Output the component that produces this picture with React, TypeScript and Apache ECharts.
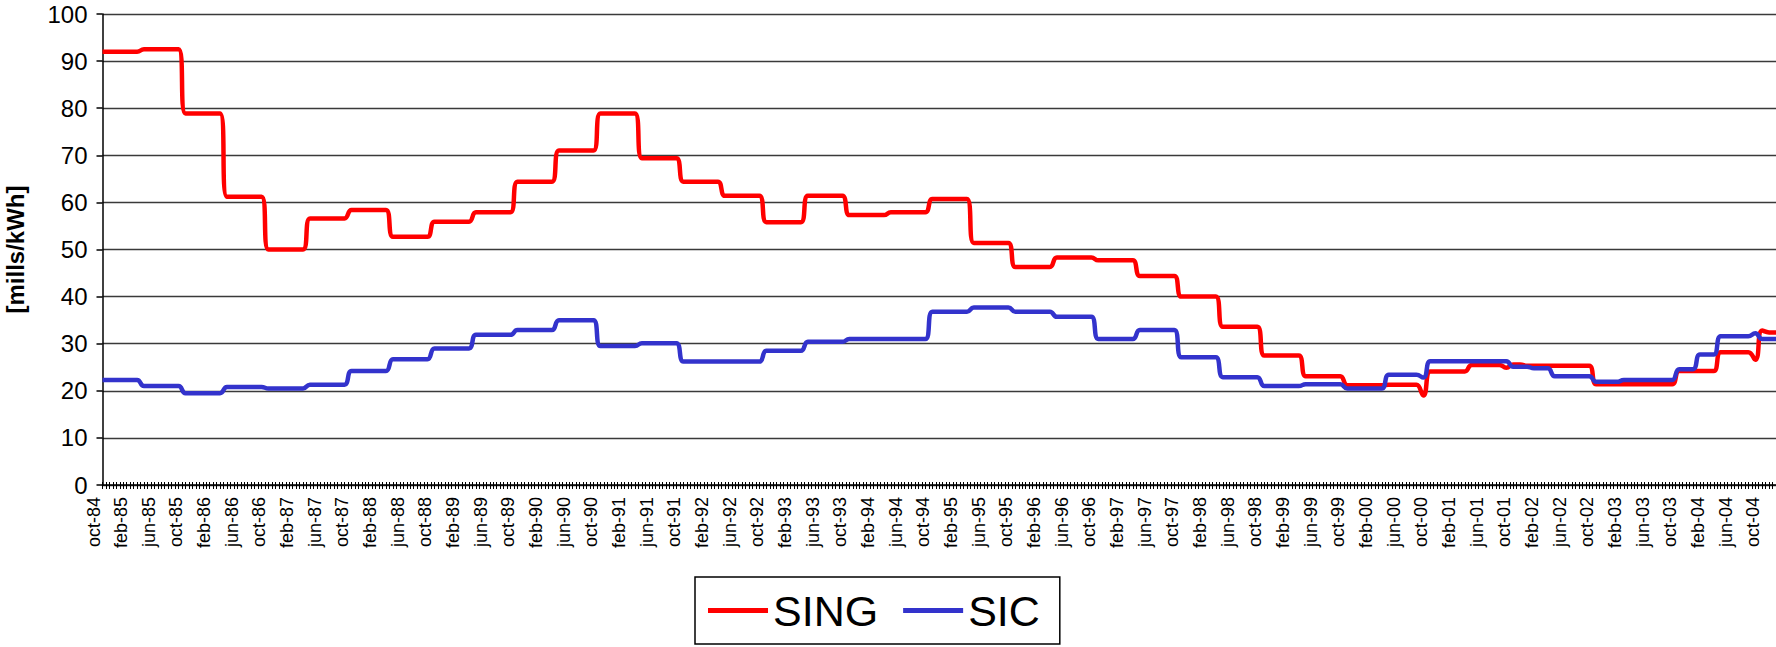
import React, { useEffect, useRef } from "react";
import * as echarts from "echarts";

// Month abbreviations (Spanish) used to build the monthly category axis
const MONTHS = ["ene", "feb", "mar", "abr", "may", "jun", "jul", "ago", "sep", "oct", "nov", "dic"];
const START_MONTH = 9; // oct
const START_YEAR = 1984;
const MONTH_COUNT = 243; // oct-84 .. dec-04

const CATEGORIES: string[] = [];
for (let i = 0; i < MONTH_COUNT; i++) {
  const m = (START_MONTH + i) % 12;
  const y = START_YEAR + Math.floor((START_MONTH + i) / 12);
  CATEGORIES.push(`${MONTHS[m]}-${String(y % 100).padStart(2, "0")}`);
}

const Y_MIN = 0;
const Y_MAX = 100;
const Y_STEP = 10;

// SING node price [mills/kWh], monthly from oct-84
const SING = [
  92.0, 92.0, 92.0, 92.0, 92.0, 92.0,
  92.5, 92.5, 92.5, 92.5, 92.5, 92.5,
  78.9, 78.9, 78.9, 78.9, 78.9, 78.9,
  61.2, 61.2, 61.2, 61.2, 61.2, 61.2,
  50.0, 50.0, 50.0, 50.0, 50.0, 50.0,
  56.6, 56.6, 56.6, 56.6, 56.6, 56.6,
  58.4, 58.4, 58.4, 58.4, 58.4, 58.4,
  52.7, 52.7, 52.7, 52.7, 52.7, 52.7,
  55.9, 55.9, 55.9, 55.9, 55.9, 55.9,
  57.9, 57.9, 57.9, 57.9, 57.9, 57.9,
  64.4, 64.4, 64.4, 64.4, 64.4, 64.4,
  71.0, 71.0, 71.0, 71.0, 71.0, 71.0,
  78.9, 78.9, 78.9, 78.9, 78.9, 78.9,
  69.4, 69.4, 69.4, 69.4, 69.4, 69.4,
  64.4, 64.4, 64.4, 64.4, 64.4, 64.4,
  61.4, 61.4, 61.4, 61.4, 61.4, 61.4,
  55.8, 55.8, 55.8, 55.8, 55.8, 55.8,
  61.4, 61.4, 61.4, 61.4, 61.4, 61.4,
  57.3, 57.3, 57.3, 57.3, 57.3, 57.3,
  57.9, 57.9, 57.9, 57.9, 57.9, 57.9,
  60.7, 60.7, 60.7, 60.7, 60.7, 60.7,
  51.4, 51.4, 51.4, 51.4, 51.4, 51.4,
  46.3, 46.3, 46.3, 46.3, 46.3, 46.3,
  48.3, 48.3, 48.3, 48.3, 48.3, 48.3,
  47.7, 47.7, 47.7, 47.7, 47.7, 47.7,
  44.4, 44.4, 44.4, 44.4, 44.4, 44.4,
  40.0, 40.0, 40.0, 40.0, 40.0, 40.0,
  33.6, 33.6, 33.6, 33.6, 33.6, 33.6,
  27.5, 27.5, 27.5, 27.5, 27.5, 27.5,
  23.1, 23.1, 23.1, 23.1, 23.1, 23.1,
  21.2, 21.2, 21.2, 21.2, 21.2, 21.2,
  21.3, 21.3, 21.3, 21.3, 21.3, 19.0,
  24.1, 24.1, 24.1, 24.1, 24.1, 24.1,
  25.5, 25.5, 25.5, 25.5, 25.5, 24.9,
  25.6, 25.6, 25.3, 25.3, 25.3, 25.3,
  25.3, 25.3, 25.3, 25.3, 25.3, 25.3,
  21.4, 21.4, 21.4, 21.4, 21.4, 21.4,
  21.4, 21.4, 21.4, 21.4, 21.4, 21.4,
  24.2, 24.2, 24.2, 24.2, 24.2, 24.2,
  28.2, 28.2, 28.2, 28.2, 28.2, 26.6,
  32.8, 32.4, 32.4,
];

// SIC node price [mills/kWh], monthly from oct-84
const SIC = [
  22.3, 22.3, 22.3, 22.3, 22.3, 22.3,
  21.0, 21.0, 21.0, 21.0, 21.0, 21.0,
  19.5, 19.5, 19.5, 19.5, 19.5, 19.5,
  20.8, 20.8, 20.8, 20.8, 20.8, 20.8,
  20.5, 20.5, 20.5, 20.5, 20.5, 20.5,
  21.3, 21.3, 21.3, 21.3, 21.3, 21.3,
  24.2, 24.2, 24.2, 24.2, 24.2, 24.2,
  26.7, 26.7, 26.7, 26.7, 26.7, 26.7,
  29.0, 29.0, 29.0, 29.0, 29.0, 29.0,
  31.9, 31.9, 31.9, 31.9, 31.9, 31.9,
  32.9, 32.9, 32.9, 32.9, 32.9, 32.9,
  35.0, 35.0, 35.0, 35.0, 35.0, 35.0,
  29.5, 29.5, 29.5, 29.5, 29.5, 29.5,
  30.1, 30.1, 30.1, 30.1, 30.1, 30.1,
  26.2, 26.2, 26.2, 26.2, 26.2, 26.2,
  26.2, 26.2, 26.2, 26.2, 26.2, 26.2,
  28.5, 28.5, 28.5, 28.5, 28.5, 28.5,
  30.4, 30.4, 30.4, 30.4, 30.4, 30.4,
  31.0, 31.0, 31.0, 31.0, 31.0, 31.0,
  31.0, 31.0, 31.0, 31.0, 31.0, 31.0,
  36.8, 36.8, 36.8, 36.8, 36.8, 36.8,
  37.7, 37.7, 37.7, 37.7, 37.7, 37.7,
  36.8, 36.8, 36.8, 36.8, 36.8, 36.8,
  35.7, 35.7, 35.7, 35.7, 35.7, 35.7,
  31.0, 31.0, 31.0, 31.0, 31.0, 31.0,
  32.9, 32.9, 32.9, 32.9, 32.9, 32.9,
  27.1, 27.1, 27.1, 27.1, 27.1, 27.1,
  22.9, 22.9, 22.9, 22.9, 22.9, 22.9,
  21.0, 21.0, 21.0, 21.0, 21.0, 21.0,
  21.4, 21.4, 21.4, 21.4, 21.4, 21.4,
  20.5, 20.5, 20.5, 20.5, 20.5, 20.5,
  23.4, 23.4, 23.4, 23.4, 23.4, 22.8,
  26.3, 26.3, 26.3, 26.3, 26.3, 26.3,
  26.3, 26.3, 26.3, 26.3, 26.3, 26.3,
  25.1, 25.1, 25.1, 24.8, 24.8, 24.8,
  23.1, 23.1, 23.1, 23.1, 23.1, 23.1,
  21.9, 21.9, 21.9, 21.9, 22.3, 22.3,
  22.3, 22.3, 22.3, 22.3, 22.3, 22.3,
  24.6, 24.6, 24.6, 27.7, 27.7, 27.7,
  31.6, 31.6, 31.6, 31.6, 31.6, 32.2,
  31.0, 31.0, 31.0,
];

const SERIES_NAMES = ["SING", "SIC"];
const SERIES_COLORS = ["#ff0000", "#3333cc"];

// half-month tick marks along the time axis
const TICK_COUNT = (MONTH_COUNT - 1) * 2;

const FONT = "'Liberation Sans', Arial, sans-serif";

export default function App() {
  const ref = useRef<HTMLDivElement>(null);

  useEffect(() => {
    const chart = echarts.init(ref.current!, null, { renderer: "svg" });
    const tickAxis = (inside: boolean, length: number) => ({
      type: "value",
      min: 0,
      max: TICK_COUNT,
      interval: 1,
      position: "bottom",
      axisLine: { show: false, onZero: false },
      axisTick: { show: true, inside, length, lineStyle: { color: "#000", width: 1 } },
      axisLabel: { show: false },
      splitLine: { show: false },
    });
    chart.setOption({
      animation: false,
      backgroundColor: "#fff",
      textStyle: { fontFamily: FONT },
      grid: {
        left: 102.5,
        right: 0,
        top: 14,
        bottom: 162,
        containLabel: false,
        outerBoundsMode: "none",
      },
      legend: {
        data: SERIES_NAMES,
        left: 695,
        top: 577,
        padding: [12, 20, 12, 13],
        itemGap: 25,
        itemWidth: 60,
        itemHeight: 5,
        icon: "rect",
        borderColor: "#000",
        borderWidth: 1.5,
        selectedMode: false,
        textStyle: { fontSize: 43, color: "#000", fontFamily: FONT },
      },
      xAxis: [
        {
          type: "category",
          data: CATEGORIES,
          boundaryGap: false,
          axisLine: { show: true, onZero: false, lineStyle: { color: "#000", width: 1.5 } },
          axisTick: { show: false },
          axisLabel: {
            interval: 3,
            rotate: 90,
            fontSize: 18,
            color: "#000",
            margin: 12,
            verticalAlign: "bottom",
            fontFamily: FONT,
          },
          splitLine: { show: false },
        },
        tickAxis(false, 4),
        tickAxis(true, 3),
      ],
      yAxis: {
        type: "value",
        min: Y_MIN,
        max: Y_MAX,
        interval: Y_STEP,
        name: "[mills/kWh]",
        nameLocation: "middle",
        nameGap: 75,
        nameTextStyle: { fontSize: 24, fontWeight: "bold", color: "#000", fontFamily: FONT },
        axisLine: { show: true, lineStyle: { color: "#000", width: 1.5 } },
        axisTick: { show: true, length: 6, lineStyle: { color: "#000", width: 1.5 } },
        axisLabel: { fontSize: 24, color: "#000", margin: 15, fontFamily: FONT },
        splitLine: { show: true, lineStyle: { color: "#3a3a3a", width: 1.3 } },
      },
      series: [
        {
          name: SERIES_NAMES[0],
          type: "line",
          data: SING,
          xAxisIndex: 0,
          yAxisIndex: 0,
          smooth: 0.5,
          symbol: "none",
          showSymbol: false,
          lineStyle: { color: SERIES_COLORS[0], width: 4.5 },
          itemStyle: { color: SERIES_COLORS[0] },
        },
        {
          name: SERIES_NAMES[1],
          type: "line",
          data: SIC,
          xAxisIndex: 0,
          yAxisIndex: 0,
          smooth: 0.5,
          symbol: "none",
          showSymbol: false,
          lineStyle: { color: SERIES_COLORS[1], width: 4.5 },
          itemStyle: { color: SERIES_COLORS[1] },
        },
      ],
    });
    return () => chart.dispose();
  }, []);

  return (
    <div
      ref={ref}
      style={{ position: "absolute", left: 0, top: 0, width: 1776, height: 647, background: "#fff" }}
    />
  );
}
